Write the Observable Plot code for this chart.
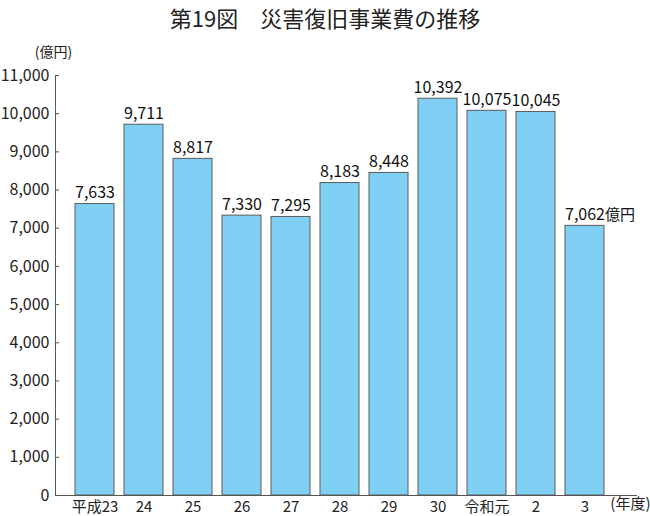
<!DOCTYPE html>
<html>
<head>
<meta charset="utf-8">
<script src="https://cdn.jsdelivr.net/npm/d3@7"></script>
<script src="https://cdn.jsdelivr.net/npm/@observablehq/plot@0.6"></script>
<style>
  body { margin: 0; background: #fff; font-family: "Noto Sans CJK JP", "Noto Sans", sans-serif; }
  #title { width: 650px; height: 34px; line-height: 34px; text-align: center; font-size: 22px; font-weight: 400; color: #222; }
</style>
</head>
<body>
<div id="title">第19図　災害復旧事業費の推移</div>
<div id="chart"></div>
<script>
const years = ["平成23", "24", "25", "26", "27", "28", "29", "30", "令和元", "2", "3"];
const values = [7633, 9711, 8817, 7330, 7295, 8183, 8448, 10392, 10075, 10045, 7062];
const yTicks = [0, 1000, 2000, 3000, 4000, 5000, 6000, 7000, 8000, 9000, 10000, 11000];
const yUnit = "(億円)";
const xUnit = "(年度)";
const lastSuffix = "億円";

const data = years.map((y, i) => ({year: y, value: values[i]}));
const fmt = d3.format(",");
const font = "Noto Sans CJK JP";

const chart = Plot.plot({
  width: 650,
  height: 482,
  marginLeft: 55,
  marginRight: 13,
  marginTop: 41,
  marginBottom: 21,
  style: {fontFamily: font, fontSize: "15px", color: "#222", background: "#fff", overflow: "visible"},
  x: {domain: years, range: [61, 618.4], padding: 0.2, align: 0.5, label: null},
  y: {domain: [0, 11000], label: null},
  marks: [
    Plot.barY(data, {x: "year", y: "value", fill: "#80cff4", stroke: "#5a5a5a", strokeWidth: 1}),
    Plot.ruleY([0], {stroke: "#555", strokeWidth: 1}),
    Plot.frame({anchor: "left", stroke: "#555", strokeWidth: 1}),
    Plot.axisY({ticks: yTicks, tickFormat: fmt, tickSize: -4, tickPadding: 10, stroke: "#555", fontSize: 16, label: null}),
    Plot.axisX({tickSize: 0, tickPadding: 6, fontSize: 15, label: null}),
    Plot.text(data, {x: "year", y: "value", text: d => fmt(d.value), dy: -11, fontSize: 16, fill: "#111"}),
    Plot.text(data.slice(-1), {x: "year", y: "value", text: () => lastSuffix, dy: -11, dx: 20, textAnchor: "start", fontSize: 15, fill: "#111"}),
    Plot.text([yUnit], {frameAnchor: "top-left", dy: -28, dx: -2, textAnchor: "middle", fontSize: 14, fill: "#222"}),
    Plot.text([xUnit], {frameAnchor: "bottom-right", dy: 13, dx: 13, textAnchor: "end", fontSize: 15, fill: "#222"})
  ]
});
document.getElementById("chart").appendChild(chart);
</script>
</body>
</html>
